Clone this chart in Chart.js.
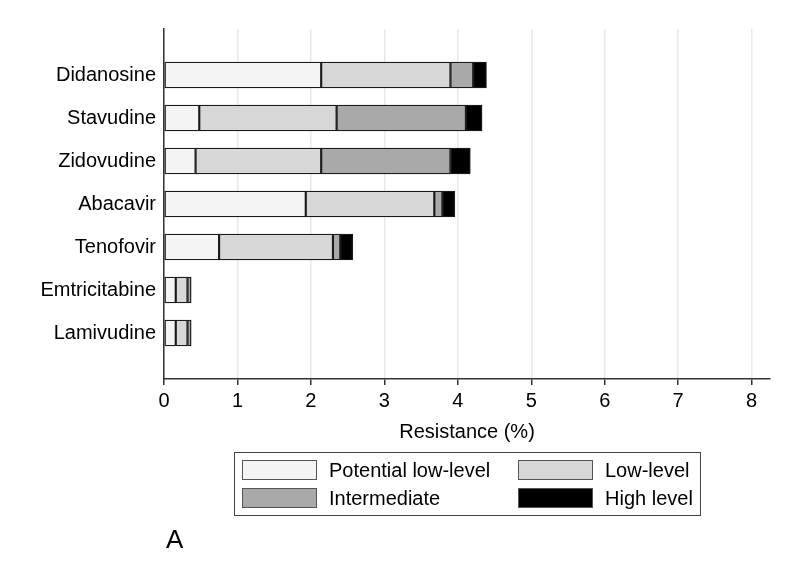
<!DOCTYPE html>
<html>
<head>
<meta charset="utf-8">
<script src="https://cdn.jsdelivr.net/npm/chart.js@4.4.1/dist/chart.umd.min.js"></script>
<style>
  html, body { margin: 0; padding: 0; background: #fff; }
  #wrap { width: 800px; height: 586px; position: relative; }
</style>
</head>
<body>
<div id="wrap"><canvas id="chart" width="800" height="586"></canvas></div>
<script>
// Drugs, top to bottom
const drugs = ['Didanosine', 'Stavudine', 'Zidovudine', 'Abacavir', 'Tenofovir', 'Emtricitabine', 'Lamivudine'];

// Resistance (%) per level
const potentialLow = [2.14, 0.48, 0.43, 1.93, 0.75, 0.16, 0.16];
const lowLevel     = [1.76, 1.87, 1.71, 1.75, 1.55, 0.16, 0.16];
const intermediate = [0.31, 1.76, 1.76, 0.11, 0.10, 0.05, 0.05];
const highLevel    = [0.18, 0.22, 0.27, 0.17, 0.17, 0, 0];

const xTicks = [0, 1, 2, 3, 4, 5, 6, 7, 8];

const levelNames = ['Potential low-level', 'Low-level', 'Intermediate', 'High level'];
const levelColors = ['#f4f4f4', '#d7d7d7', '#a9a9a9', '#000000'];

const FONT = "'Liberation Sans', Arial, Helvetica, sans-serif";

// bars sit on a numeric index axis so the gap above/below matches the original
const datasets = [potentialLow, lowLevel, intermediate, highLevel].map((vals, i) => ({
  label: levelNames[i],
  data: vals.map((v, k) => ({ x: v, y: k })),
  backgroundColor: levelColors[i],
  borderColor: '#1a1a1a',
  borderWidth: 1.4,
  borderSkipped: false,
  barThickness: 26,
}));

// Boxed 2x2 legend and panel letter
const legendBox = {
  id: 'legendBox',
  afterDraw(chart) {
    const ctx = chart.ctx;
    ctx.save();
    ctx.strokeStyle = '#444';
    ctx.lineWidth = 1;
    ctx.strokeRect(234.5, 452.5, 466, 63);

    const cols = [242, 518];
    const rows = [460, 488];
    ctx.font = '20px ' + FONT;
    ctx.textBaseline = 'middle';
    ctx.textAlign = 'left';
    levelNames.forEach((name, i) => {
      const x = cols[i % 2];
      const y = rows[Math.floor(i / 2)];
      ctx.fillStyle = levelColors[i];
      ctx.fillRect(x, y, 75, 20);
      ctx.strokeStyle = '#555';
      ctx.strokeRect(x + 0.5, y + 0.5, 74, 19);
      ctx.fillStyle = '#000';
      ctx.fillText(name, x + 87, y + 11);
    });

    ctx.font = '26px ' + FONT;
    ctx.textBaseline = 'alphabetic';
    ctx.fillText('A', 166, 548);
    ctx.restore();
  }
};

new Chart(document.getElementById('chart').getContext('2d'), {
  type: 'bar',
  data: { datasets: datasets },
  plugins: [legendBox],
  options: {
    indexAxis: 'y',
    responsive: false,
    animation: false,
    layout: { padding: { top: 29, right: 30, bottom: 137, left: 0 } },
    plugins: {
      legend: { display: false },
      tooltip: { enabled: false },
    },
    scales: {
      x: {
        type: 'linear',
        stacked: true,
        min: 0,
        max: 8.25,
        afterFit: scale => { scale.height = 70; },
        afterBuildTicks: scale => { scale.ticks = xTicks.map(v => ({ value: v })); },
        ticks: {
          color: '#000',
          font: { family: FONT, size: 20 },
          padding: 4,
        },
        grid: {
          color: '#e4ebee',
          lineWidth: 1.5,
          tickColor: '#333',
          tickLength: 6,
        },
        border: { display: true, color: '#333', width: 1.5 },
        title: {
          display: true,
          text: 'Resistance (%)',
          color: '#000',
          font: { family: FONT, size: 20 },
          padding: { top: 0, bottom: 5 },
        },
      },
      y: {
        type: 'linear',
        stacked: true,
        reverse: true,
        offset: false,
        min: -1.07,
        max: 7.07,
        afterFit: scale => { scale.width = 164; },
        afterBuildTicks: scale => { scale.ticks = drugs.map((d, k) => ({ value: k })); },
        ticks: {
          color: '#000',
          font: { family: FONT, size: 20 },
          padding: 8,
          autoSkip: false,
          callback: value => drugs[value],
        },
        grid: { display: false, drawTicks: false, offset: false },
        border: { display: true, color: '#333', width: 1.5 },
      },
    },
  },
});
</script>
</body>
</html>
